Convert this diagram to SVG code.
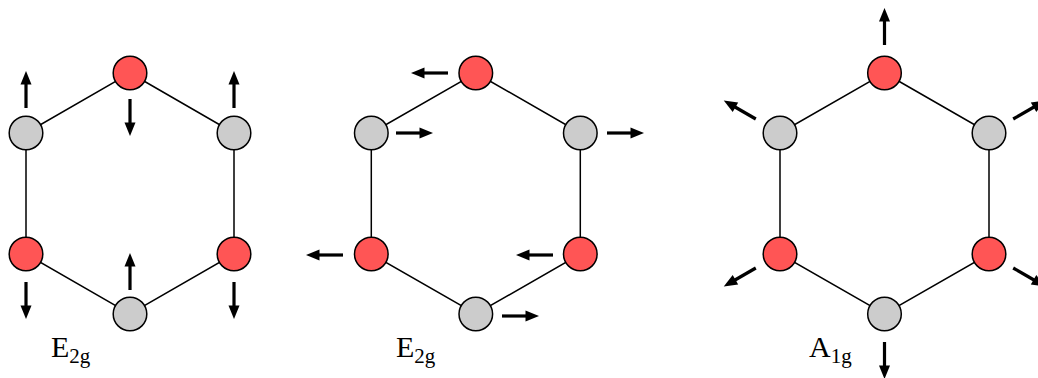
<svg xmlns="http://www.w3.org/2000/svg" xmlns:xlink="http://www.w3.org/1999/xlink" width="1038" height="378" viewBox="0 0 1038 378">
<style>
.edge{stroke:#000;stroke-width:1.5;fill:none}
.c{fill:#FF5555;stroke:#000;stroke-width:1.5}
.n{fill:#CCCCCC;stroke:#000;stroke-width:1.5}
.lbl{font-family:"Liberation Serif","Times New Roman",serif;fill:#000}
</style>
<defs>
<g id="arr">
<line x1="0" y1="0" x2="26" y2="0" stroke="#000" stroke-width="3.2"/>
<path d="M23.5,-5.5 L37,0 L23.5,5.5 Z" fill="#000"/>
</g>
</defs>
<rect width="1038" height="378" fill="#fff"/>
<g id="connectors">
<polygon class="edge" points="130,73 234,133 234,254 130,314 26,254 26,133"/>
<polygon class="edge" points="475.8,73 580.3,133 580.3,254 475.8,314 371.3,254 371.3,133"/>
<polygon class="edge" points="884.5,73 989,133 989,254 884.5,314 780,254 780,133"/>
</g>
<g id="displacements">
<use xlink:href="#arr" transform="translate(26,108) rotate(-90)"/>
<use xlink:href="#arr" transform="translate(130,99) rotate(90)"/>
<use xlink:href="#arr" transform="translate(234,108) rotate(-90)"/>
<use xlink:href="#arr" transform="translate(26,282) rotate(90)"/>
<use xlink:href="#arr" transform="translate(130,290) rotate(-90)"/>
<use xlink:href="#arr" transform="translate(234,282) rotate(90)"/>
<use xlink:href="#arr" transform="translate(448,73) rotate(180)"/>
<use xlink:href="#arr" transform="translate(396,133)"/>
<use xlink:href="#arr" transform="translate(607,133)"/>
<use xlink:href="#arr" transform="translate(343,255) rotate(180)"/>
<use xlink:href="#arr" transform="translate(553,255) rotate(180)"/>
<use xlink:href="#arr" transform="translate(502,316)"/>
<use xlink:href="#arr" transform="translate(884.5,45) rotate(-90)"/>
<use xlink:href="#arr" transform="translate(755.8,119) rotate(-150)"/>
<use xlink:href="#arr" transform="translate(1013.2,119) rotate(-30)"/>
<use xlink:href="#arr" transform="translate(755.8,268) rotate(150)"/>
<use xlink:href="#arr" transform="translate(1013.2,268) rotate(30)"/>
<use xlink:href="#arr" transform="translate(884.5,342) rotate(90)"/>
</g>
<g id="m1-top"><circle class="c" cx="130" cy="73" r="16.8"/></g>
<g id="m1-ur"><circle class="n" cx="234" cy="133" r="16.8"/></g>
<g id="m1-lr"><circle class="c" cx="234" cy="254" r="16.8"/></g>
<g id="m1-bottom"><circle class="n" cx="130" cy="314" r="16.8"/></g>
<g id="m1-ll"><circle class="c" cx="26" cy="254" r="16.8"/></g>
<g id="m1-ul"><circle class="n" cx="26" cy="133" r="16.8"/></g>
<g id="m2-top"><circle class="c" cx="475.8" cy="73" r="16.8"/></g>
<g id="m2-ur"><circle class="n" cx="580.3" cy="133" r="16.8"/></g>
<g id="m2-lr"><circle class="c" cx="580.3" cy="254" r="16.8"/></g>
<g id="m2-bottom"><circle class="n" cx="475.8" cy="314" r="16.8"/></g>
<g id="m2-ll"><circle class="c" cx="371.3" cy="254" r="16.8"/></g>
<g id="m2-ul"><circle class="n" cx="371.3" cy="133" r="16.8"/></g>
<g id="m3-top"><circle class="c" cx="884.5" cy="73" r="16.8"/></g>
<g id="m3-ur"><circle class="n" cx="989" cy="133" r="16.8"/></g>
<g id="m3-lr"><circle class="c" cx="989" cy="254" r="16.8"/></g>
<g id="m3-bottom"><circle class="n" cx="884.5" cy="314" r="16.8"/></g>
<g id="m3-ll"><circle class="c" cx="780" cy="254" r="16.8"/></g>
<g id="m3-ul"><circle class="n" cx="780" cy="133" r="16.8"/></g>
<g id="labels">
<text class="lbl" x="51" y="357" font-size="30">E<tspan font-size="21" dy="6">2g</tspan></text>
<text class="lbl" x="396" y="357" font-size="30">E<tspan font-size="21" dy="6">2g</tspan></text>
<text class="lbl" x="809" y="357" font-size="30">A<tspan font-size="21" dy="6">1g</tspan></text>
</g>
</svg>
